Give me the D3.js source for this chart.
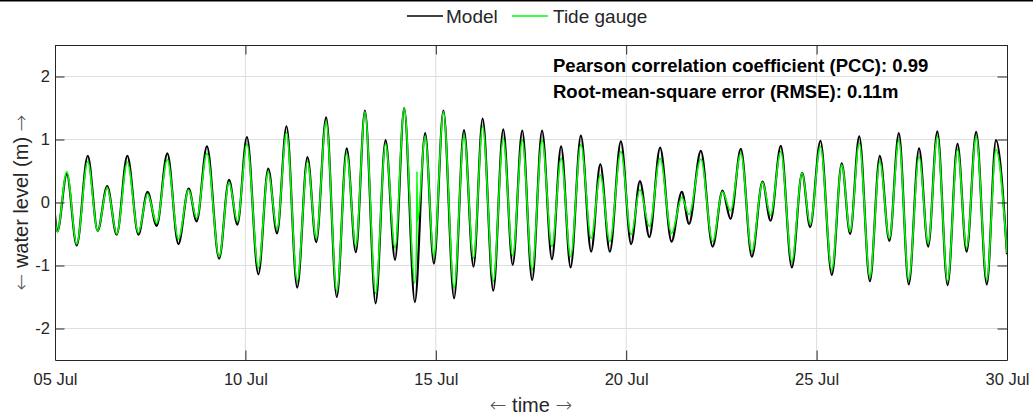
<!DOCTYPE html>
<html>
<head>
<meta charset="utf-8">
<script src="https://cdn.jsdelivr.net/npm/d3@7"></script>
<style>
  body { margin: 0; background: #fff; }
  svg { display: block; font-family: "Liberation Sans", Arial, sans-serif; }
  .tick text { fill: #262626; }
  .arrow { font-family: "DejaVu Sans", sans-serif; font-weight: 200; }
</style>
</head>
<body>
<svg width="1033" height="419"></svg>
<script>
// extrema of the tide curve (days after 05 Jul 00:00)
const tDays = [0.00, 0.06, 0.31, 0.57, 0.86, 1.12, 1.37, 1.62, 1.90, 2.19, 2.43, 2.67, 2.95, 3.24, 3.51, 3.72,
  3.99, 4.31, 4.57, 4.79, 5.04, 5.34, 5.60, 5.83, 6.08, 6.36, 6.63, 6.86, 7.12, 7.40, 7.66, 7.90,
  8.14, 8.42, 8.68, 8.93, 9.17, 9.45, 9.72, 9.95, 10.20, 10.48, 10.74, 10.99, 11.23, 11.51, 11.77, 12.02,
  12.27, 12.53, 12.79, 13.05, 13.29, 13.54, 13.81, 14.08, 14.32, 14.57, 14.86, 15.13, 15.36, 15.61, 15.89, 16.19,
  16.46, 16.65, 16.96, 17.27, 17.53, 17.74, 18.01, 18.30, 18.58, 18.79, 19.06, 19.35, 19.62, 19.83, 20.10, 20.40,
  20.66, 20.88, 21.12, 21.40, 21.66, 21.91, 22.16, 22.42, 22.69, 22.93, 23.17, 23.44, 23.70, 23.94, 24.19, 24.47,
  24.71, 25.00];
const modelLevel = [-0.20, -0.46, 0.45, -0.68, 0.74, -0.45, 0.26, -0.51, 0.74, -0.51, 0.17, -0.37, 0.78, -0.66, 0.22, -0.30,
  0.89, -0.89, 0.36, -0.35, 1.04, -1.14, 0.54, -0.49, 1.21, -1.35, 0.72, -0.63, 1.35, -1.50, 0.86, -0.79,
  1.46, -1.60, 0.99, -0.91, 1.50, -1.58, 1.10, -0.97, 1.46, -1.52, 1.15, -1.02, 1.33, -1.40, 1.16, -0.99,
  1.14, -1.23, 1.14, -0.90, 0.89, -1.03, 1.06, -0.78, 0.61, -0.78, 0.97, -0.66, 0.34, -0.55, 0.87, -0.62,
  0.17, -0.34, 0.82, -0.70, 0.19, -0.26, 0.85, -0.86, 0.33, -0.29, 0.90, -1.03, 0.47, -0.39, 0.98, -1.15,
  0.62, -0.50, 1.05, -1.25, 0.74, -0.61, 1.10, -1.30, 0.86, -0.70, 1.13, -1.31, 0.93, -0.78, 1.12, -1.30,
  0.99, -0.82];
const gaugeLevel = [-0.25, -0.46, 0.49, -0.66, 0.65, -0.45, 0.24, -0.50, 0.64, -0.48, 0.14, -0.33, 0.68, -0.58, 0.20, -0.25,
  0.78, -0.86, 0.32, -0.30, 0.93, -1.04, 0.49, -0.43, 1.11, -1.25, 0.65, -0.57, 1.29, -1.41, 0.78, -0.70,
  1.44, -1.44, 0.93, -0.72, 1.50, -1.28, 1.05, -0.86, 1.44, -1.36, 1.07, -0.88, 1.21, -1.25, 1.02, -0.85,
  0.99, -1.07, 0.99, -0.70, 0.70, -0.86, 0.92, -0.57, 0.44, -0.62, 0.81, -0.51, 0.20, -0.38, 0.70, -0.49,
  0.08, -0.19, 0.69, -0.62, 0.17, -0.13, 0.78, -0.78, 0.32, -0.20, 0.81, -0.94, 0.47, -0.35, 0.89, -1.07,
  0.60, -0.46, 0.94, -1.19, 0.65, -0.57, 0.99, -1.23, 0.73, -0.65, 1.05, -1.25, 0.84, -0.72, 1.05, -1.23,
  0.84, -0.80];
// short glitch in the gauge record on 14 Jul
const spikeDays = [9.50, 9.505, 9.515];
const spikeLevel = [-0.43, 0.49, -0.30];

const xTickDays = [0, 5, 10, 15, 20, 25];
const yTicks = [-2, -1, 0, 1, 2];

const svg = d3.select('svg');
const margin = {top: 45, right: 26, bottom: 59, left: 55};
const width = +svg.attr('width'), height = +svg.attr('height');
const x0 = margin.left, x1 = width - margin.right, y0 = margin.top, y1 = height - margin.bottom;
const ink = '#262626';

const start = new Date(2021, 6, 5);
const toDate = d => new Date(start.getTime() + d * 864e5);

const x = d3.scaleTime().domain([toDate(0), toDate(25)]).range([x0, x1]);
const y = d3.scaleLinear().domain([-2.5, 2.5]).range([y1, y0]);

const modelData = tDays.map((t, i) => [toDate(t), modelLevel[i]]);
const gaugeData = tDays.map((t, i) => [t, gaugeLevel[i]])
  .concat(spikeDays.map((t, i) => [t, spikeLevel[i]]))
  .sort((a, b) => a[0] - b[0])
  .map(d => [toDate(d[0]), d[1]]);

// grid
svg.append('g').selectAll('line').data(xTickDays.slice(1, -1)).join('line')
  .attr('x1', d => x(toDate(d))).attr('x2', d => x(toDate(d)))
  .attr('y1', y0).attr('y2', y1)
  .attr('stroke', '#dedede').attr('stroke-width', 1);
svg.append('g').selectAll('line').data(yTicks).join('line')
  .attr('x1', x0).attr('x2', x1)
  .attr('y1', d => y(d)).attr('y2', d => y(d))
  .attr('stroke', '#dedede').attr('stroke-width', 1);

// lines
svg.append('clipPath').attr('id', 'clip')
  .append('rect').attr('x', x0).attr('y', y0).attr('width', x1 - x0).attr('height', y1 - y0);

const line = d3.line().x(d => x(d[0])).y(d => y(d[1])).curve(d3.curveMonotoneX);
const plot = svg.append('g').attr('clip-path', 'url(#clip)');
plot.append('path').datum(modelData).attr('d', line)
  .attr('fill', 'none').attr('stroke', '#000').attr('stroke-width', 2.2);
plot.append('path').datum(gaugeData).attr('d', line)
  .attr('fill', 'none').attr('stroke', '#00ff00').attr('stroke-width', 1.6);

// axes, ticks inward on all four sides
const tk = 9.5;
const xTicks = xTickDays.map(toDate);
const styleAxis = g => {
  g.select('.domain').attr('stroke', ink);
  g.selectAll('.tick line').attr('stroke', ink);
};
svg.append('g').attr('transform', `translate(0,${y1})`)
  .call(d3.axisBottom(x).tickValues(xTicks).tickFormat(d3.timeFormat('%d %b'))
    .tickSizeInner(-tk).tickSizeOuter(0).tickPadding(13))
  .call(styleAxis)
  .call(g => g.selectAll('.tick text').attr('font-size', 16.5).attr('font-family', null));
svg.append('g').attr('transform', `translate(0,${y0})`)
  .call(d3.axisTop(x).tickValues(xTicks).tickFormat('').tickSizeInner(-tk).tickSizeOuter(0))
  .call(styleAxis);
svg.append('g').attr('transform', `translate(${x0},0)`)
  .call(d3.axisLeft(y).tickValues(yTicks).tickFormat(d => String(d))
    .tickSizeInner(-tk).tickSizeOuter(0).tickPadding(5))
  .call(styleAxis)
  .call(g => g.selectAll('.tick text').attr('font-size', 16.5).attr('font-family', null));
svg.append('g').attr('transform', `translate(${x1},0)`)
  .call(d3.axisRight(y).tickValues(yTicks).tickFormat('').tickSizeInner(-tk).tickSizeOuter(0))
  .call(styleAxis);

// axis titles with long thin arrows
const arrowTitle = (sel, label) => {
  sel.append('tspan').attr('class', 'arrow').attr('fill', '#555').text('\u2190');
  sel.append('tspan').text(' ' + label + ' ');
  sel.append('tspan').attr('class', 'arrow').attr('fill', '#555').text('\u2192');
};
svg.append('text')
  .attr('x', (x0 + x1) / 2).attr('y', 412)
  .attr('text-anchor', 'middle').attr('font-size', 20).attr('fill', ink)
  .call(arrowTitle, 'time');
svg.append('text')
  .attr('transform', `translate(28,${(y0 + y1) / 2}) rotate(-90)`)
  .attr('text-anchor', 'middle').attr('font-size', 20).attr('fill', ink)
  .call(arrowTitle, 'water level (m)');

// stats
const stats = ['Pearson correlation coefficient (PCC): 0.99', 'Root-mean-square error (RMSE): 0.11m'];
svg.append('g').selectAll('text').data(stats).join('text')
  .attr('x', 553).attr('y', (d, i) => 72 + i * 26)
  .attr('font-size', 18.5).attr('font-weight', 'bold').attr('fill', '#000')
  .text(d => d);

// legend
svg.append('line').attr('x1', 0).attr('x2', width).attr('y1', 0.75).attr('y2', 0.75)
  .attr('stroke', '#000').attr('stroke-width', 1.5);
const legend = [
  {name: 'Model', color: '#000', lx: 407, tx: 446},
  {name: 'Tide gauge', color: '#00ff00', lx: 512, tx: 553}
];
const lg = svg.append('g').selectAll('g').data(legend).join('g');
lg.append('line')
  .attr('x1', d => d.lx).attr('x2', d => d.lx + 36).attr('y1', 16).attr('y2', 16)
  .attr('stroke', d => d.color).attr('stroke-width', 1.3);
lg.append('text')
  .attr('x', d => d.tx).attr('y', 23)
  .attr('font-size', 19).attr('fill', ink)
  .text(d => d.name);
</script>
</body>
</html>
